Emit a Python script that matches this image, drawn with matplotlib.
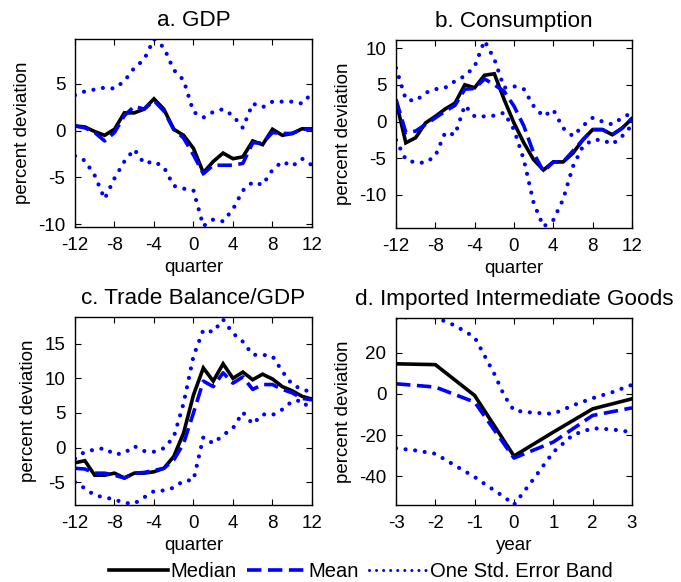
import numpy as np
import matplotlib
matplotlib.use("Agg")
import matplotlib.pyplot as plt
from matplotlib.lines import Line2D

plt.rcParams["font.family"] = ["Liberation Sans", "DejaVu Sans"]
plt.rcParams["font.size"] = 13.5
plt.rcParams["axes.unicode_minus"] = False

# event window, quarters around the episode
quarters = np.arange(-12, 13)

gdp_median = [0.5, 0.4, -0.1, -0.5, 0.15, 1.9, 1.9, 2.3, 3.4, 2.3, 0.15, -0.5, -1.9,
              -4.5, -3.3, -2.4, -3.0, -2.8, -1.1, -1.5, 0.15, -0.5, -0.3, 0.2, 0.2]
gdp_mean = [0.5, 0.3, -0.2, -1.1, -0.2, 1.6, 2.6, 2.3, 3.2, 2.1, 0.15, -0.8, -2.6,
            -4.6, -3.7, -3.7, -3.7, -3.5, -1.3, -1.3, -0.2, -0.3, -0.3, 0.15, 0.2]
gdp_upper = [3.8, 4.2, 4.4, 4.6, 4.5, 5.3, 6.7, 7.6, 9.8, 8.9, 6.5, 5.4, 2.0,
             1.4, 2.0, 2.3, 1.6, 0.3, 2.9, 2.5, 3.1, 3.1, 3.1, 2.9, 4.0]
gdp_lower = [-2.7, -3.2, -4.8, -7.3, -5.1, -3.3, -2.0, -3.5, -3.3, -3.9, -5.9, -6.2, -6.4,
             -10.2, -9.5, -9.7, -8.4, -6.4, -5.5, -5.8, -4.2, -3.3, -3.8, -3.0, -3.7]

cons_median = [2.8, -2.9, -2.2, -0.2, 0.7, 1.7, 2.5, 5.0, 4.6, 6.3, 6.5, 3.0, -0.2,
               -2.9, -5.2, -6.6, -5.5, -5.5, -4.3, -2.5, -1.1, -1.1, -1.8, -0.9, 0.4]
cons_mean = [3.0, -1.5, -1.3, -0.4, 0.5, 1.4, 2.2, 4.4, 4.5, 5.8, 5.0, 4.1, 2.1,
             -0.6, -4.3, -6.8, -5.5, -5.5, -4.0, -2.5, -1.1, -1.1, -1.8, -0.9, 0.4]
cons_upper = [7.3, 3.0, 2.8, 3.9, 4.4, 4.6, 5.5, 6.2, 7.5, 11.0, 8.5, 4.6, 4.8,
              4.4, 2.1, 0.7, 1.6, -0.9, -2.0, -0.6, 0.5, 0.0, -0.4, 0.5, 1.2]
cons_lower = [-2.5, -5.2, -5.6, -5.6, -4.7, -1.5, -1.8, 2.2, 0.7, 0.7, 0.8, 1.2, -1.1,
              -5.2, -11.1, -14.3, -13.4, -10.6, -6.1, -3.4, -2.5, -2.5, -3.1, -2.0, -0.5]

tb_median = [-2.2, -1.9, -4.0, -4.0, -3.7, -4.4, -3.7, -3.7, -3.5, -3.0, -1.3, 2.1, 7.6,
             11.5, 9.6, 12.1, 10.0, 10.9, 9.8, 10.6, 9.9, 8.8, 8.2, 7.4, 7.0]
tb_mean = [-3.0, -3.1, -3.7, -3.7, -4.0, -4.4, -3.7, -3.6, -3.3, -3.0, -1.8, 0.6, 5.0,
           9.6, 8.8, 10.8, 9.3, 10.2, 8.4, 9.1, 9.1, 8.4, 7.9, 7.1, 6.9]
tb_upper = [-1.6, -0.6, -0.3, -0.1, -1.0, -0.8, 0.2, -0.5, -0.6, -0.1, 1.5, 6.4, 13.2,
            17.0, 16.7, 18.5, 16.5, 15.3, 13.4, 13.4, 13.2, 11.0, 9.1, 8.4, 8.0]
tb_lower = [-5.0, -5.9, -6.9, -7.2, -7.5, -8.0, -8.1, -7.2, -6.3, -6.2, -5.8, -4.8, -4.7,
            1.5, 0.6, 1.8, 2.8, 5.1, 3.4, 4.8, 4.7, 5.5, 6.7, 6.8, 5.2]

# imported intermediate goods, annual
years = np.arange(-3, 4)
imp_median = [14.6, 14.2, -0.8, -30.2, -18.6, -7.3, -2.4]
imp_mean = [4.9, 3.3, -4.0, -31.2, -23.4, -10.5, -6.8]
band_years = [-3, -2.5, -2, -1.5, -1, -0.75, -0.5, -0.25, 0, 0.5, 1, 1.5, 2, 2.5, 3]
imp_upper = [36.7, 37.7, 37.2, 33.2, 27.5, 18.6, 9.7, -0.8, -8.1, -9.2, -9.7, -5.6, -2.1, 0.8, 4.4]
imp_lower = [-26.4, -27.5, -29.1, -34.8, -40.4, -43.7, -46.9, -50.1, -53.9, -41.3, -28.3, -19.9,
             -16.7, -17.3, -18.6]

BLUE = "#0000ff"
LW = 2.6
DOT = dict(color=BLUE, lw=3.0, linestyle=(0, (0.01, 2.3)), dash_capstyle="round")


def draw_panel(ax, x, median, mean, bx, upper, lower):
    ax.plot(x, median, color="black", lw=LW, solid_joinstyle="miter")
    ax.plot(x, mean, color=BLUE, lw=LW, dashes=(4, 1.8))
    for band in (upper, lower):
        ax.plot(bx, band, **DOT)
    ax.tick_params(direction="in", top=True, right=True, length=4, width=0.8, pad=7)
    for sp in ax.spines.values():
        sp.set_linewidth(1.0)
    ax.set_ylabel("percent deviation", labelpad=5)


fig = plt.figure(figsize=(6.81, 5.82), dpi=100)

ax_a = fig.add_axes([0.1101, 0.610, 0.348, 0.323])
draw_panel(ax_a, quarters, gdp_median, gdp_mean, quarters, gdp_upper, gdp_lower)
ax_a.set_xlim(-12, 12)
ax_a.set_ylim(-10.3, 9.8)
ax_a.set_xticks(np.arange(-12, 13, 4))
ax_a.set_yticks([-10, -5, 0, 5])
ax_a.set_xlabel("quarter", labelpad=4)
ax_a.set_title("a. GDP", pad=9)

ax_b = fig.add_axes([0.5815, 0.6082, 0.3465, 0.3231])
draw_panel(ax_b, quarters, cons_median, cons_mean, quarters, cons_upper, cons_lower)
ax_b.set_xlim(-12, 12)
ax_b.set_ylim(-14.5, 11.1)
ax_b.set_xticks(np.arange(-12, 13, 4))
ax_b.set_yticks([-10, -5, 0, 5, 10])
ax_b.set_xlabel("quarter", labelpad=4)
ax_b.set_title("b. Consumption", pad=9)

ax_c = fig.add_axes([0.1101, 0.1323, 0.348, 0.3235])
draw_panel(ax_c, quarters, tb_median, tb_mean, quarters, tb_upper, tb_lower)
ax_c.set_xlim(-12, 12)
ax_c.set_ylim(-8.3, 18.9)
ax_c.set_xticks(np.arange(-12, 13, 4))
ax_c.set_yticks([-5, 0, 5, 10, 15])
ax_c.set_xlabel("quarter", labelpad=4)
ax_c.set_title("c. Trade Balance/GDP", pad=9)

ax_d = fig.add_axes([0.5815, 0.1323, 0.3465, 0.3218])
draw_panel(ax_d, years, imp_median, imp_mean, band_years, imp_upper, imp_lower)
ax_d.set_xlim(-3, 3)
ax_d.set_ylim(-54, 37)
ax_d.set_xticks(years)
ax_d.set_yticks([-40, -20, 0, 20])
ax_d.set_xlabel("year", labelpad=4)
ax_d.set_title("d. Imported Intermediate Goods", pad=9)

handles = [
    Line2D([], [], color="black", lw=LW),
    Line2D([], [], color=BLUE, lw=LW, dashes=(4, 1.8)),
    Line2D([], [], color=BLUE, lw=2.2, linestyle=(0, (0.01, 2.3)), dash_capstyle="round"),
]
fig.legend(handles, ["Median", "Mean", "One Std. Error Band"], loc="lower center",
           bbox_to_anchor=(0.53, -0.03), ncol=3, frameon=False, fontsize=14.5,
           handlelength=2.9, handletextpad=0.15, columnspacing=0.5)

fig.savefig("out.png", dpi=100)
